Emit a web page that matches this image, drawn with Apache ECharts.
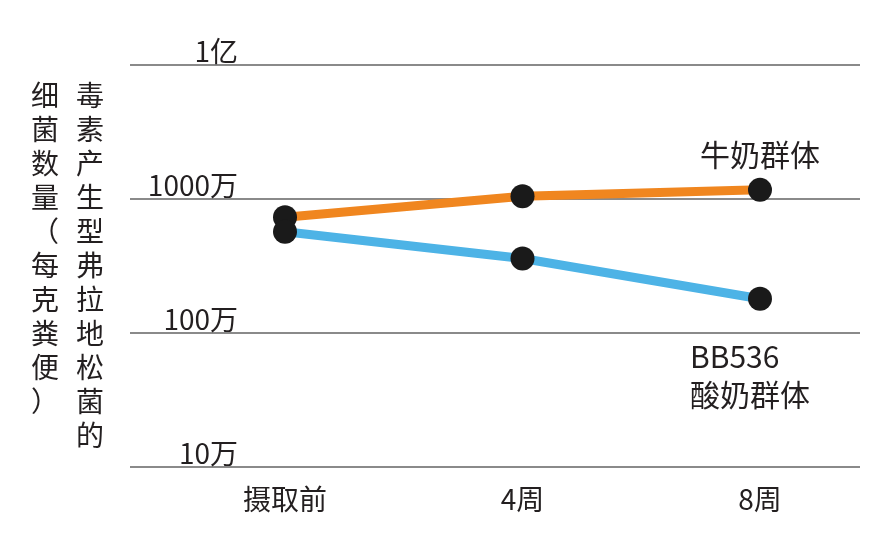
<!DOCTYPE html><html><head><meta charset="utf-8"><script src="https://cdn.jsdelivr.net/npm/echarts@6/dist/echarts.min.js"></script></head><body style="margin:0"><div id="c" style="width:876px;height:544px"></div><script>
const categories=['摄取前','4周','8周'];
const milk=[7.3e6,1.05e7,1.17e7];
const yogurt=[5.7e6,3.6e6,1.8e6];
const yTicks={100000:'10万',1000000:'100万',10000000:'1000万',100000000:'1亿'};
const F='"Noto Sans CJK SC","Noto Sans",sans-serif', C='#231F20';
const ch=echarts.init(document.getElementById('c'));
ch.setOption({animation:false,
grid:[{left:130,width:730,top:65,bottom:77},{left:285,width:475,top:65,bottom:77}],
xAxis:[{gridIndex:0,type:'value',show:false},{gridIndex:1,type:'category',data:categories,boundaryGap:false,axisLine:{show:false},axisTick:{show:false},axisLabel:{fontSize:28,color:C,fontFamily:F,margin:18}}],
yAxis:[{gridIndex:0,type:'log',min:1e5,max:1e8,logBase:10,axisLine:{show:false},axisTick:{show:false},splitLine:{lineStyle:{color:'#8a8a8a',width:2}},
axisLabel:{inside:true,margin:108,align:'right',verticalAlign:'bottom',padding:[0,0,0,0],fontSize:28,color:C,fontFamily:F,formatter:v=>yTicks[Math.round(v)]||''}},
{gridIndex:1,type:'log',min:1e5,max:1e8,show:false}],
series:[
{type:'line',xAxisIndex:1,yAxisIndex:1,data:milk,lineStyle:{color:'#F0861F',width:9},symbol:'circle',symbolSize:24,itemStyle:{color:'#1a1a1a'},z:3},
{type:'line',xAxisIndex:1,yAxisIndex:1,data:yogurt,lineStyle:{color:'#4DB3E6',width:9},symbol:'circle',symbolSize:24,itemStyle:{color:'#1a1a1a'},z:3}],
graphic:[
{type:'text',left:31,top:78,style:{text:'细菌数量（每克粪便）'.split('').join('\n'),lineHeight:34,fill:C,font:'28px '+F}},
{type:'text',left:76,top:78,style:{text:'毒素产生型弗拉地松菌的'.split('').join('\n'),lineHeight:34,fill:C,font:'28px '+F}},
{type:'text',left:700,top:140,style:{text:'牛奶群体',font:'30px '+F,fill:C}},
{type:'text',left:690,top:338,style:{text:'BB536\n酸奶群体',font:'30px '+F,lineHeight:38,fill:C}}
]});
</script></body></html>
